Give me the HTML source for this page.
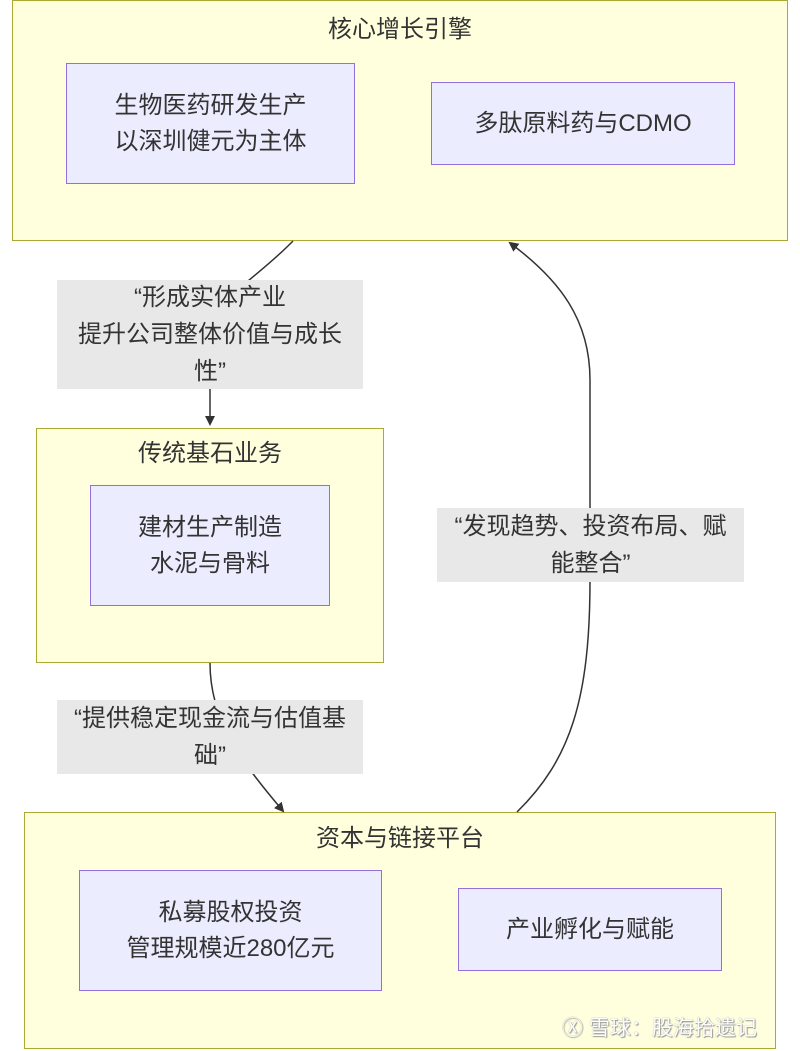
<!DOCTYPE html>
<html><head><meta charset="utf-8"><style>
body{margin:0;width:800px;height:1051px;background:#fff;position:relative;overflow:hidden;font-family:"Liberation Sans","Noto Sans CJK SC",sans-serif;}
.c{position:absolute;background:#ffffde;border:1.5px solid #aaaa33;box-sizing:border-box;}
.t{position:absolute;left:0;right:0;text-align:center;font-size:24px;color:#333;}
.n{position:absolute;background:#ececff;border:1.5px solid #9370db;box-sizing:border-box;display:flex;align-items:center;justify-content:center;text-align:center;font-size:24px;line-height:36px;color:#333;}
.l{position:absolute;background:#e8e8e8;display:flex;align-items:center;justify-content:center;text-align:center;font-size:24px;line-height:37px;color:#333;}
svg{position:absolute;left:0;top:0;}
</style></head><body>
<div class="c" style="left:12px;top:0;width:776px;height:241px"><div class="t" style="top:8px">核心增长引擎</div></div>
<div class="n" style="left:66px;top:63px;width:289px;height:121px">生物医药研发生产<br>以深圳健元为主体</div>
<div class="n" style="left:431px;top:82px;width:304px;height:83px">多肽原料药与CDMO</div>
<div class="c" style="left:36px;top:428px;width:348px;height:235px"><div class="t" style="top:4px">传统基石业务</div></div>
<div class="n" style="left:90px;top:485px;width:240px;height:121px">建材生产制造<br>水泥与骨料</div>
<div class="c" style="left:24px;top:812px;width:752px;height:237px"><div class="t" style="top:5px">资本与链接平台</div></div>
<div class="n" style="left:79px;top:870px;width:303px;height:121px">私募股权投资<br>管理规模近280亿元</div>
<div class="n" style="left:458px;top:888px;width:264px;height:83px">产业孵化与赋能</div>
<svg width="800" height="1051">
<defs><marker id="a" markerWidth="10" markerHeight="10" refX="8" refY="5" orient="auto" markerUnits="userSpaceOnUse"><path d="M0,0L10,5L0,10z" fill="#333"/></marker></defs>
<g fill="none" stroke="#333" stroke-width="1.5">
<path d="M293,241 C250,285 210,300 210,340 L210,424" marker-end="url(#a)"/>
<path d="M210,663 C210,720 240,760 283,811" marker-end="url(#a)"/>
<path d="M517,812 C570,760 590,700 590,580 L590,380 C590,320 560,280 510,243" marker-end="url(#a)"/>
</g></svg>
<div class="l" style="left:57px;top:280px;width:306px;height:109px">“形成实体产业<br>提升公司整体价值与成长<br>性”</div>
<div class="l" style="left:437px;top:508px;width:307px;height:74px">“发现趋势、投资布局、赋<br>能整合”</div>
<div class="l" style="left:57px;top:700px;width:306px;height:74px">“提供稳定现金流与估值基<br>础”</div>
<div style="position:absolute;left:562px;top:1012px;font-size:21px;color:#fff;text-shadow:0 0 1px #888,1px 1px 1px #999;">Ⓧ 雪球：股海拾遗记</div>
</body></html>
